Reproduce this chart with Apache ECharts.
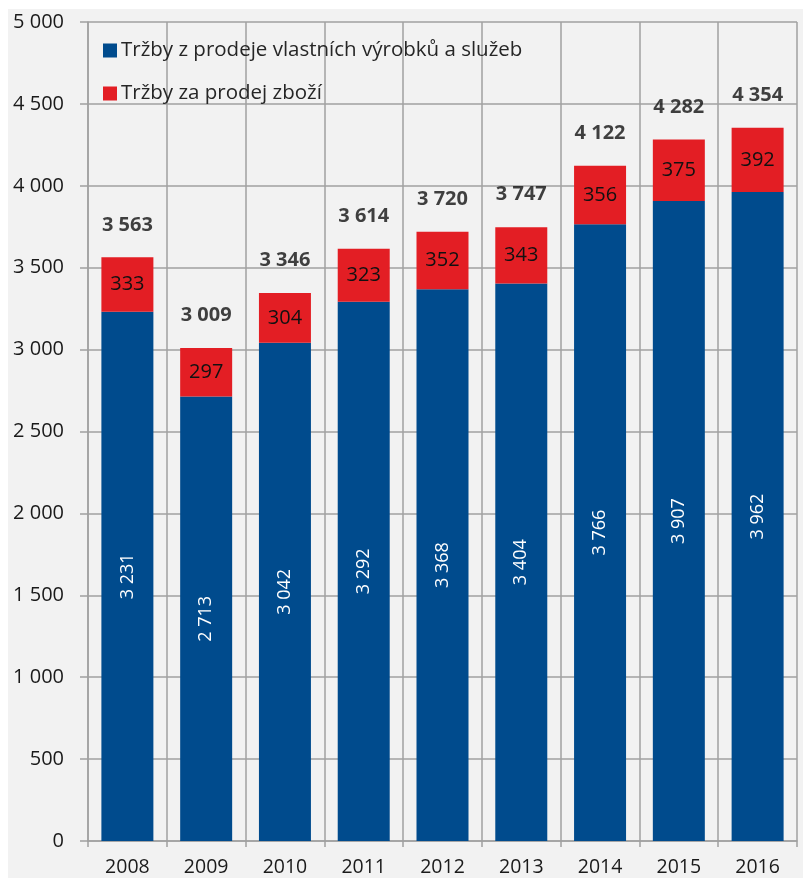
<!DOCTYPE html>
<html>
<head>
<meta charset="utf-8">
<script src="https://cdn.jsdelivr.net/npm/echarts@6/dist/echarts.min.js"></script>
<style>
  html, body { margin: 0; padding: 0; background: #ffffff; }
  #wrap { position: relative; width: 803px; height: 878px; overflow: hidden; }
  #bg { position: absolute; left: 8px; top: 9px; right: 0; bottom: 0; background: #f2f2f2; }
  #chart { position: absolute; left: 0; top: 0; width: 803px; height: 878px; }
</style>
</head>
<body>
<div id="wrap">
  <div id="bg"></div>
  <div id="chart"></div>
</div>
<script>
// Tržby (mil. Kč) podle roku
const years = ['2008', '2009', '2010', '2011', '2012', '2013', '2014', '2015', '2016'];
const vlastniVyrobky = [3231, 2713, 3042, 3292, 3368, 3404, 3766, 3907, 3962];
const prodejZbozi = [333, 297, 304, 323, 352, 343, 356, 375, 392];
const celkem = [3563, 3009, 3346, 3614, 3720, 3747, 4122, 4282, 4354];
const seriesNames = ['Tržby z prodeje vlastních výrobků a služeb', 'Tržby za prodej zboží'];
const yTicks = [0, 500, 1000, 1500, 2000, 2500, 3000, 3500, 4000, 4500, 5000];

const fmt = n => String(n).replace(/\B(?=(\d{3})+(?!\d))/g, ' ');
const FONT = '"Open Sans", "Noto Sans", sans-serif';
const gridColor = '#a0a0a0';

const chart = echarts.init(document.getElementById('chart'), null, { renderer: 'canvas' });

chart.setOption({
  backgroundColor: 'transparent',
  animation: false,
  textStyle: { fontFamily: FONT },
  grid: { left: 88, right: 6, top: 22, bottom: 37, containLabel: false },
  legend: {
    orient: 'vertical',
    left: 98,
    top: 35,
    itemWidth: 14,
    itemHeight: 14,
    itemGap: 22,
    icon: 'rect',
    data: seriesNames,
    textStyle: { fontFamily: FONT, fontSize: 20.5, color: '#262626', padding: [0, 0, 0, -1] }
  },
  xAxis: {
    type: 'category',
    data: years,
    boundaryGap: true,
    axisLine: { show: true, lineStyle: { color: gridColor, width: 1.5 } },
    axisTick: { show: true, length: 6, lineStyle: { color: gridColor, width: 1.5 } },
    splitLine: { show: true, lineStyle: { color: gridColor, width: 1.5 } },
    axisLabel: { fontFamily: FONT, fontSize: 19.5, color: '#1a1a1a', margin: 16 }
  },
  yAxis: {
    type: 'value',
    min: yTicks[0],
    max: yTicks[yTicks.length - 1],
    interval: 500,
    axisLine: { show: true, lineStyle: { color: gridColor, width: 1.5 } },
    axisTick: { show: true, length: 8, lineStyle: { color: gridColor, width: 1.5 } },
    splitLine: { show: true, lineStyle: { color: gridColor, width: 1.5 } },
    axisLabel: { fontFamily: FONT, fontSize: 20, color: '#1a1a1a', margin: 24, formatter: v => fmt(v) }
  },
  series: [
    {
      name: seriesNames[0],
      type: 'bar',
      stack: 'trzby',
      barCategoryGap: '34%',
      data: vlastniVyrobky,
      itemStyle: { color: '#004b8d' },
      label: {
        show: true,
        position: 'inside',
        rotate: 90,
        fontFamily: FONT,
        fontSize: 18,
        color: '#ffffff',
        formatter: p => fmt(p.value)
      }
    },
    {
      name: seriesNames[1],
      type: 'bar',
      stack: 'trzby',
      data: prodejZbozi,
      itemStyle: { color: '#e31e24' },
      label: {
        show: true,
        position: 'inside',
        fontFamily: FONT,
        fontSize: 20,
        color: '#111111',
        formatter: p => fmt(p.value)
      }
    },
    {
      name: 'Celkem',
      type: 'scatter',
      data: celkem,
      symbolSize: 1,
      itemStyle: { color: 'rgba(0,0,0,0)' },
      silent: true,
      z: 5,
      label: {
        show: true,
        position: 'top',
        distance: 22,
        fontFamily: FONT,
        fontSize: 20,
        fontWeight: 'bold',
        color: '#111111',
        formatter: p => fmt(p.value)
      }
    }
  ]
});
</script>
</body>
</html>
